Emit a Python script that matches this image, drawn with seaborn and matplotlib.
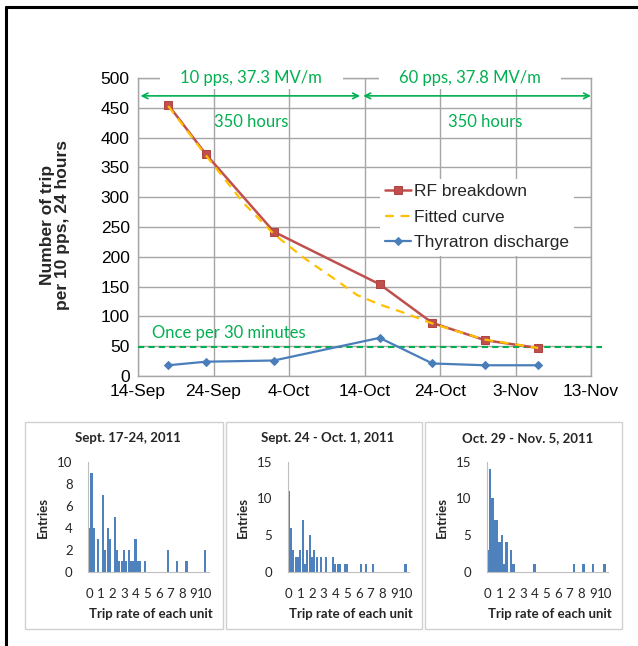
import numpy as np
import pandas as pd
import matplotlib
matplotlib.use("Agg")
import matplotlib.pyplot as plt
import matplotlib.dates as mdates
from matplotlib.ticker import MultipleLocator
from matplotlib.patches import Rectangle
from matplotlib.lines import Line2D
import seaborn as sns

# ---------------- data ----------------
dates = ["2011-09-18", "2011-09-23", "2011-10-02", "2011-10-16",
         "2011-10-23", "2011-10-30", "2011-11-06"]
rf_breakdown = [455, 372, 242, 154, 89, 60, 47]
thyratron = [18, 24, 26, 64, 21, 18, 18]

fit_dates = ["2011-09-18", "2011-09-23", "2011-09-28", "2011-10-02", "2011-10-06",
             "2011-10-10", "2011-10-13", "2011-10-16", "2011-10-19", "2011-10-23",
             "2011-10-26", "2011-10-30", "2011-11-03", "2011-11-06"]
fitted = [453, 370, 290, 238, 198, 163, 136, 120, 107, 88, 76, 61, 53, 47]

once_per_30min = 48
x_tick_dates = ["2011-09-14", "2011-09-24", "2011-10-04", "2011-10-14",
                "2011-10-24", "2011-11-03", "2011-11-13"]

period_labels = ["10 pps, 37.3 MV/m", "60 pps, 37.8 MV/m"]
period_label_dates = ["2011-09-29", "2011-10-28"]
period_arrows = [("2011-09-14 08:00", "2011-10-13 10:00"),
                 ("2011-10-13 20:00", "2011-11-13 00:00")]
hours_label = "350 hours"
hours_label_dates = ["2011-09-29", "2011-10-30"]

hist_titles = ["Sept. 17-24, 2011", "Sept. 24 - Oct. 1, 2011", "Oct. 29 - Nov. 5, 2011"]
hist_tick_labels = [str(i) for i in range(11)]
hist_bins = list(range(52))
h1 = [4, 9, 4, 0, 3, 0, 7, 2, 4, 3, 0, 5, 2, 1, 1, 2, 1, 2, 1, 1, 3, 1, 1, 0, 1,
      0, 0, 0, 0, 0, 0, 0, 0, 0, 2, 0, 0, 0, 1, 0, 0, 0, 1,
      0, 0, 0, 0, 0, 0, 0, 2, 0]
h2 = [11, 6, 3, 2, 2, 3, 7, 1, 3, 5, 2, 3, 2, 0, 2, 0, 2, 0, 0, 2, 1, 1, 1, 0, 1, 1,
      0, 0, 0, 0, 0, 1, 0, 1, 0, 0, 1,
      0, 0, 0, 0, 0, 0, 0, 0, 0, 0, 0, 0, 0, 1, 0]
h3 = [3, 14, 10, 7, 7, 4, 5, 1, 4, 0, 3, 1,
      0, 0, 0, 0, 0, 0, 0, 0, 1,
      0, 0, 0, 0, 0, 0, 0, 0, 0, 0, 0, 0, 0, 0, 0, 0, 1,
      0, 0, 0, 1, 0, 0, 0, 1, 0, 0, 0, 0, 1, 0]
hist_ymax = [10, 15, 15]
hist_ystep = [2, 5, 5]

# ---------------- style ----------------
sns.set_style("white")
plt.rcParams["font.family"] = ["Liberation Sans", "DejaVu Sans"]

RED = "#C0504D"
YEL = "#FFC000"
BLUE = "#4A7EBB"
GREEN = "#00B050"
GRID = "#A6A6A6"
HBLUE = "#4F81BD"
CAL = ["Lato", "DejaVu Sans"]

fig = plt.figure(figsize=(6.38, 6.46), dpi=100)
W, H = 638, 646

def fr(x0, y0, x1, y1):
    return [x0 / W, 1 - y1 / H, (x1 - x0) / W, (y1 - y0) / H]

# ---------------- main chart ----------------
ax = fig.add_axes(fr(138, 78, 591, 376))
df = pd.DataFrame({"date": pd.to_datetime(dates), "rf": rf_breakdown, "thy": thyratron})
dfit = pd.DataFrame({"date": pd.to_datetime(fit_dates), "fit": fitted})

sns.lineplot(data=df, x="date", y="rf", ax=ax, color=RED, lw=1.8, marker="s",
             markersize=6, markeredgecolor="#B04541", label="RF breakdown", zorder=4)
sns.lineplot(data=dfit, x="date", y="fit", ax=ax, color=YEL, lw=1.6,
             linestyle=(0, (4, 3)), label="Fitted curve", zorder=5)
sns.lineplot(data=df, x="date", y="thy", ax=ax, color=BLUE, lw=1.6, marker="D",
             markersize=4, markeredgecolor=BLUE, label="Thyratron discharge", zorder=4)

xt = pd.to_datetime(x_tick_dates)
ax.set_xlim(xt[0], xt[-1])
ax.set_ylim(0, 500)
ax.set_xticks(xt)
ax.xaxis.set_major_formatter(mdates.DateFormatter("%-d-%b"))
ax.xaxis.set_minor_locator(mdates.DayLocator(interval=2))
ax.yaxis.set_major_locator(MultipleLocator(50))
ax.yaxis.set_minor_locator(MultipleLocator(10))
ax.grid(True, which="major", color=GRID, lw=1.0)
ax.tick_params(axis="both", which="major", labelsize=12.5, length=0, pad=6, colors="black")
ax.tick_params(axis="both", which="minor", direction="in", length=4, color=GRID, width=0.8)
for s in ax.spines.values():
    s.set_color(GRID)
    s.set_linewidth(1.0)
ax.set_xlabel("")
ax.set_ylabel("")

# reference line
ax.plot([xt[0], xt[-1] + pd.Timedelta(days=1.5)], [once_per_30min] * 2, color=GREEN,
        lw=1.5, linestyle=(0, (3, 2)), clip_on=False, zorder=3)
ax.text(pd.Timestamp("2011-09-26"), 72, "Once per 30 minutes", color=GREEN, fontsize=12,
        family=CAL, ha="center", va="center")

for lab, d in zip(period_labels, period_label_dates):
    ax.text(pd.Timestamp(d), 500, "    " + lab + "    ", color=GREEN, fontsize=12,
            family=CAL, ha="center", va="center", clip_on=False, zorder=6,
            bbox=dict(boxstyle="square,pad=0.2", fc="white", ec="none"))
for a, b in period_arrows:
    ax.annotate("", xy=(pd.Timestamp(b), 470), xytext=(pd.Timestamp(a), 470),
                arrowprops=dict(arrowstyle="<->", color=GREEN, lw=1.2,
                                shrinkA=0, shrinkB=0, mutation_scale=10),
                annotation_clip=False, zorder=6)
for d in hours_label_dates:
    ax.text(pd.Timestamp(d), 427, hours_label, color=GREEN, fontsize=12, family=CAL,
            ha="center", va="center")

leg = ax.legend(loc="upper left", bbox_to_anchor=(380 / W, 1 - 179 / H),
                bbox_transform=fig.transFigure, fontsize=12.5, frameon=True,
                facecolor="white", edgecolor="none", framealpha=1, fancybox=False,
                handlelength=1.5, handletextpad=0.15, labelspacing=0.6,
                borderpad=0.3, borderaxespad=0)
leg.set_zorder(7)

fig.text(55 / W, 1 - 225 / H, "Number of trip\nper 10 pps, 24 hours", rotation=90,
         fontsize=12.5, fontweight="bold", ha="center", va="center",
         multialignment="center", linespacing=1.05)

# ---------------- histograms ----------------
panels = [(25, 223), (226, 422), (425, 622)]
haxes = [(88, 208.5), (287.5, 409), (486.7, 608)]
for i, (hd, title) in enumerate(zip([h1, h2, h3], hist_titles)):
    px0, px1 = panels[i]
    fig.add_artist(Rectangle((px0 / W, 1 - 629 / H), (px1 - px0) / W, (629 - 421.7) / H,
                             transform=fig.transFigure, fill=False, ec="#D0D0D0", lw=1.0))
    hx0, hx1 = haxes[i]
    hax = fig.add_axes(fr(hx0, 461.7, hx1, 571.7))
    sns.barplot(x=hist_bins, y=hd, color=HBLUE, saturation=1, width=0.9, ax=hax,
                native_scale=False, linewidth=0)
    hax.set_xlim(-0.5, 51.5)
    hax.set_ylim(0, hist_ymax[i])
    hax.set_yticks(np.arange(0, hist_ymax[i] + 1, hist_ystep[i]))
    hax.set_xticks(range(0, 51, 5))
    hax.set_xticklabels(hist_tick_labels)
    hax.set_xticks(range(0, 52, 2), minor=True)
    for s in ["top", "right"]:
        hax.spines[s].set_visible(False)
    for s in ["left", "bottom"]:
        hax.spines[s].set_color("#BFBFBF")
        hax.spines[s].set_linewidth(0.8)
    hax.tick_params(axis="y", which="major", labelsize=9.5, length=3, color="#BFBFBF",
                    direction="out", pad=8)
    hax.tick_params(axis="x", which="major", labelsize=9.5, length=0, pad=12)
    hax.tick_params(axis="x", which="minor", length=3, color="#BFBFBF",
                    direction="inout", width=0.7)
    for t in hax.get_xticklabels() + hax.get_yticklabels():
        t.set_family(CAL)
    hax.set_xlabel("")
    hax.set_ylabel("")
    cx = (px0 + px1) / 2
    fig.text((cx + 4) / W, 1 - 438 / H, title, fontsize=9.5, fontweight="bold", family=CAL,
             ha="center", va="center")
    fig.text((hx0 + hx1) / 2 / W + 0.004, 1 - 614 / H, "Trip rate of each unit", fontsize=9.5,
             fontweight="bold", family=CAL, ha="center", va="center")
    fig.text((hx0 - 45) / W, 1 - 517 / H, "Entries", fontsize=9.5, fontweight="bold",
             family=CAL, rotation=90, ha="center", va="center")

# outer frame (left and top edges)
fig.add_artist(Line2D([5.5 / W, 5.5 / W], [0, 1 - 7 / H], transform=fig.transFigure,
                      color="black", lw=2.2))
fig.add_artist(Line2D([5.5 / W, 1], [1 - 7 / H, 1 - 7 / H], transform=fig.transFigure,
                      color="black", lw=2.2))

fig.savefig("out.png", dpi=100, facecolor="white")
